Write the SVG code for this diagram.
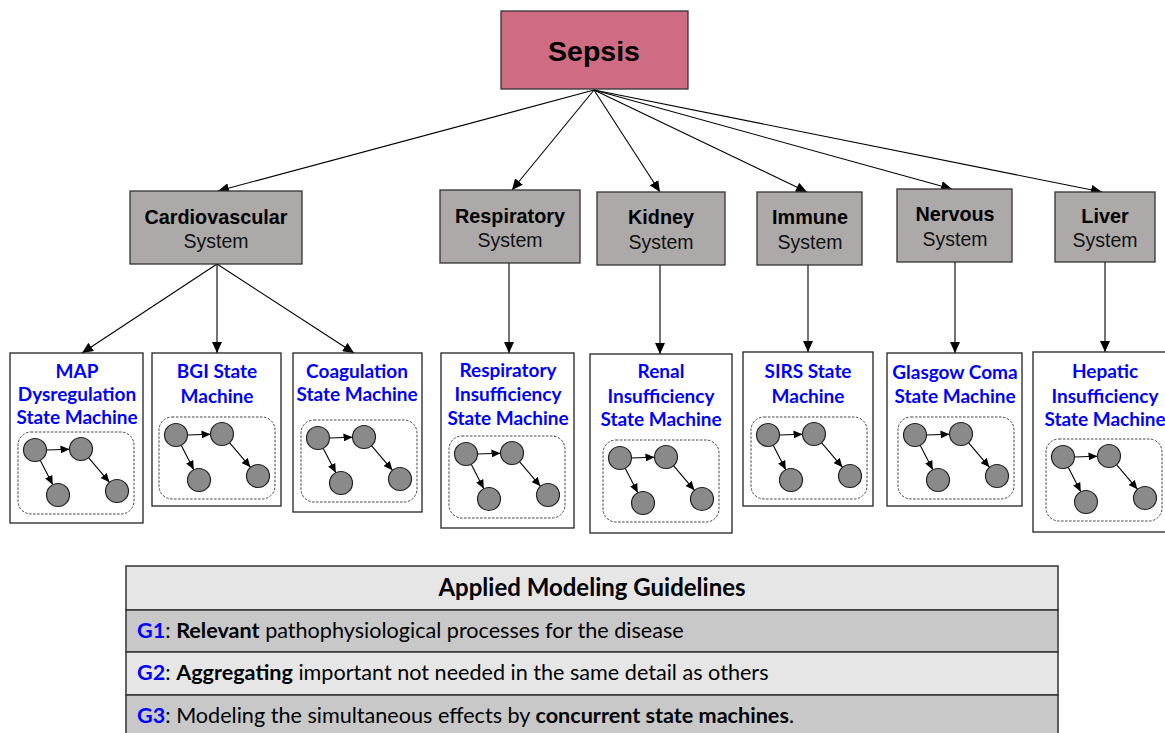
<svg xmlns="http://www.w3.org/2000/svg" xmlns:xlink="http://www.w3.org/1999/xlink" width="1165" height="733" viewBox="0 0 1165 733">
<style>
.sys{fill:#ADA9A8;stroke:#333;stroke-width:1.3}
.sysb{font-family:"Liberation Sans",Arial,sans-serif;font-weight:bold;font-size:19.8px;fill:#000;text-anchor:middle}
.sysr{font-family:"Liberation Sans",Arial,sans-serif;font-size:19.5px;fill:#111;text-anchor:middle}
.sm{fill:#fff;stroke:#222;stroke-width:1.3}
.smt{font-family:Lato,"Open Sans",sans-serif;font-weight:bold;font-size:19px;fill:#0000FF;text-anchor:middle}
.con{stroke:#000;stroke-width:1.1;fill:none;marker-end:url(#ah)}
.mcon{stroke:#000;stroke-width:1.1;fill:none;marker-end:url(#mah)}
.st{fill:#8a8a8a;stroke:#222;stroke-width:1.2}
.box{fill:none;stroke:#444;stroke-width:1;stroke-dasharray:2.5 1.5}
.tt{font-family:Lato,"Open Sans",sans-serif;font-size:21.6px;fill:#000}
.th{font-family:Lato,"Open Sans",sans-serif;font-size:24px;font-weight:bold;fill:#000;text-anchor:middle}
.g{fill:#0000FF;font-weight:bold}
</style>
<defs>
<marker id="ah" markerUnits="userSpaceOnUse" markerWidth="12" markerHeight="10" refX="11" refY="5" orient="auto">
<path d="M0,0 L11,5 L0,10 Z" fill="#000"/>
</marker>
<marker id="mah" markerUnits="userSpaceOnUse" markerWidth="10" markerHeight="8" refX="9" refY="4" orient="auto">
<path d="M0,0 L9,4 L0,8 Z" fill="#000"/>
</marker>
<g id="mini">
<rect class="box" x="0" y="0" width="116" height="82" rx="13"/>
<line class="mcon" x1="28.5" y1="18" x2="51.5" y2="17.2"/>
<line class="mcon" x1="22.2" y1="28.2" x2="34.8" y2="52.8"/>
<line class="mcon" x1="70.5" y1="25.7" x2="91.5" y2="50.3"/>
<circle class="st" cx="17" cy="18" r="11.5"/>
<circle class="st" cx="63" cy="17" r="11.5"/>
<circle class="st" cx="40" cy="63" r="11.5"/>
<circle class="st" cx="99" cy="59" r="11.5"/>
</g>
</defs>
<rect width="1165" height="733" fill="#fff"/>

<g id="connectors">
<line class="con" x1="594" y1="90" x2="218" y2="191"/>
<line class="con" x1="594" y1="90" x2="512" y2="190"/>
<line class="con" x1="594" y1="90" x2="660" y2="192"/>
<line class="con" x1="594" y1="90" x2="807" y2="192"/>
<line class="con" x1="594" y1="90" x2="952" y2="189"/>
<line class="con" x1="594" y1="90" x2="1102" y2="192"/>
<line class="con" x1="217" y1="264" x2="82" y2="353"/>
<line class="con" x1="217" y1="264" x2="217" y2="353"/>
<line class="con" x1="217" y1="264" x2="354" y2="353"/>
<line class="con" x1="509" y1="263" x2="509" y2="353"/>
<line class="con" x1="660" y1="265" x2="660" y2="354"/>
<line class="con" x1="808" y1="265" x2="808" y2="352"/>
<line class="con" x1="955" y1="262" x2="955" y2="353"/>
<line class="con" x1="1105" y1="262" x2="1105" y2="352"/>
</g>

<g id="sepsis">
<rect x="501" y="11" width="187" height="78" fill="#D06B84" stroke="#333" stroke-width="1.3"/>
<text x="594" y="61" font-family="Liberation Sans,Arial,sans-serif" font-weight="bold" font-size="28.5" text-anchor="middle">Sepsis</text>
</g>

<g id="cardiovascular">
<rect class="sys" x="130" y="191" width="172" height="73"/>
<text class="sysb" x="216" y="224">Cardiovascular</text>
<text class="sysr" x="216" y="248">System</text>
</g>
<g id="respiratory">
<rect class="sys" x="440" y="190" width="140" height="73"/>
<text class="sysb" x="510" y="223">Respiratory</text>
<text class="sysr" x="510" y="247">System</text>
</g>
<g id="kidney">
<rect class="sys" x="597" y="192" width="128" height="73"/>
<text class="sysb" x="661" y="224">Kidney</text>
<text class="sysr" x="661" y="249">System</text>
</g>
<g id="immune">
<rect class="sys" x="757" y="192" width="105" height="73"/>
<text class="sysb" x="810" y="224">Immune</text>
<text class="sysr" x="810" y="249">System</text>
</g>
<g id="nervous">
<rect class="sys" x="897" y="189" width="115" height="73"/>
<text class="sysb" x="955" y="221">Nervous</text>
<text class="sysr" x="955" y="246">System</text>
</g>
<g id="liver">
<rect class="sys" x="1055" y="192" width="100" height="70"/>
<text class="sysb" x="1105" y="223">Liver</text>
<text class="sysr" x="1105" y="247">System</text>
</g>

<g id="map-sm">
<rect class="sm" x="10" y="353" width="133" height="170"/>
<text class="smt" x="77" y="378">MAP</text>
<text class="smt" x="77" y="401">Dysregulation</text>
<text class="smt" x="77" y="424">State Machine</text>
<use xlink:href="#mini" href="#mini" transform="translate(18,432)"/>
</g>
<g id="bgi-sm">
<rect class="sm" x="152" y="353" width="129" height="153"/>
<text class="smt" x="217" y="378">BGI State</text>
<text class="smt" x="217" y="403">Machine</text>
<use xlink:href="#mini" href="#mini" transform="translate(159,417)"/>
</g>
<g id="coag-sm">
<rect class="sm" x="293" y="353" width="129" height="159"/>
<text class="smt" x="357" y="378">Coagulation</text>
<text class="smt" x="357" y="401">State Machine</text>
<use xlink:href="#mini" href="#mini" transform="translate(301,420)"/>
</g>
<g id="resp-sm">
<rect class="sm" x="441" y="353" width="133" height="175"/>
<text class="smt" x="508" y="377">Respiratory</text>
<text class="smt" x="508" y="401">Insufficiency</text>
<text class="smt" x="508" y="425">State Machine</text>
<use xlink:href="#mini" href="#mini" transform="translate(449,436)"/>
</g>
<g id="renal-sm">
<rect class="sm" x="590" y="354" width="142" height="179"/>
<text class="smt" x="661" y="378">Renal</text>
<text class="smt" x="661" y="403">Insufficiency</text>
<text class="smt" x="661" y="426">State Machine</text>
<use xlink:href="#mini" href="#mini" transform="translate(603,440)"/>
</g>
<g id="sirs-sm">
<rect class="sm" x="743" y="352" width="130" height="154"/>
<text class="smt" x="808" y="378">SIRS State</text>
<text class="smt" x="808" y="403">Machine</text>
<use xlink:href="#mini" href="#mini" transform="translate(751,417)"/>
</g>
<g id="glasgow-sm">
<rect class="sm" x="887" y="353" width="135" height="153"/>
<text class="smt" x="955" y="379">Glasgow Coma</text>
<text class="smt" x="955" y="403">State Machine</text>
<use xlink:href="#mini" href="#mini" transform="translate(898,417)"/>
</g>
<g id="hepatic-sm">
<rect class="sm" x="1033" y="352" width="140" height="180"/>
<text class="smt" x="1105" y="378">Hepatic</text>
<text class="smt" x="1105" y="403">Insufficiency</text>
<text class="smt" x="1105" y="426">State Machine</text>
<use xlink:href="#mini" href="#mini" transform="translate(1046,439)"/>
</g>

<g id="guidelines">
<rect x="126" y="566" width="932" height="44" fill="#E6E6E6" stroke="#333" stroke-width="1.5"/>
<rect x="126" y="610" width="932" height="42" fill="#C8C8C8" stroke="#333" stroke-width="1.5"/>
<rect x="126" y="652" width="932" height="43" fill="#E6E6E6" stroke="#333" stroke-width="1.5"/>
<rect x="126" y="695" width="932" height="45" fill="#C8C8C8" stroke="#333" stroke-width="1.5"/>
<text class="th" x="592" y="596">Applied Modeling Guidelines</text>
<text class="tt" x="137" y="638"><tspan class="g">G1</tspan>: <tspan font-weight="bold">Relevant</tspan> pathophysiological processes for the disease</text>
<text class="tt" x="137" y="680"><tspan class="g">G2</tspan>: <tspan font-weight="bold">Aggregating</tspan> important not needed in the same detail as others</text>
<text class="tt" x="137" y="723"><tspan class="g">G3</tspan>: Modeling the simultaneous effects by <tspan font-weight="bold">concurrent state machines</tspan>.</text>
</g>
</svg>
